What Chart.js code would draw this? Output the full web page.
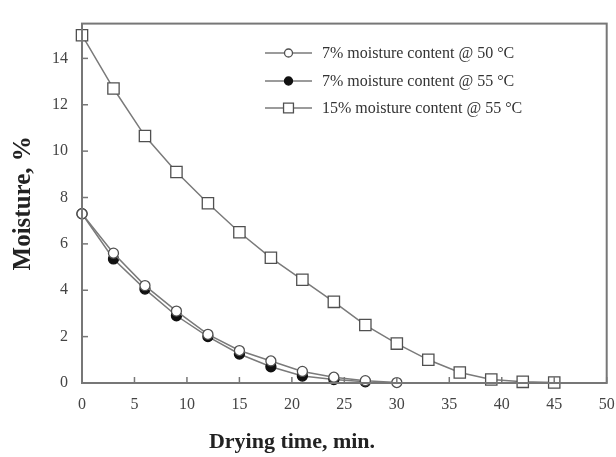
<!DOCTYPE html>
<html>
<head>
<meta charset="utf-8">
<script src="https://cdn.jsdelivr.net/npm/chart.js@4/dist/chart.umd.min.js"></script>
<style>
  html, body { margin: 0; padding: 0; background: #fff; }
  #wrap { width: 616px; height: 457px; }
</style>
</head>
<body>
<div id="wrap"><canvas id="chart" width="616" height="457"></canvas></div>
<script>
// data (drying time in min, moisture in %)
const time7at50 = [0, 3, 6, 9, 12, 15, 18, 21, 24, 27, 30];
const moist7at50 = [7.3, 5.6, 4.2, 3.1, 2.1, 1.4, 0.95, 0.5, 0.25, 0.1, 0.02];

const time7at55 = [0, 3, 6, 9, 12, 15, 18, 21, 24, 27];
const moist7at55 = [7.3, 5.35, 4.05, 2.9, 2.0, 1.25, 0.7, 0.3, 0.15, 0.05];

const time15at55 = [0, 3, 6, 9, 12, 15, 18, 21, 24, 27, 30, 33, 36, 39, 42, 45];
const moist15at55 = [15.0, 12.7, 10.65, 9.1, 7.75, 6.5, 5.4, 4.45, 3.5, 2.5, 1.7, 1.0, 0.45, 0.15, 0.05, 0.02];

const seriesLabels = [
    '7% moisture content @ 50 \u00B0C',
    '7% moisture content @ 55 \u00B0C',
    '15% moisture content @ 55 \u00B0C'
];
const xTicks = [0, 5, 10, 15, 20, 25, 30, 35, 40, 45, 50];
const yTicks = [0, 2, 4, 6, 8, 10, 12, 14];

const toPoints = (xs, ys) => xs.map((x, i) => ({ x: x, y: ys[i] }));

const serif = '"Liberation Serif", "DejaVu Serif", serif';
const lineGray = '#7a7a7a';
const markGray = '#505050';

// frame, inward ticks, axis titles and an in-plot legend
const decorations = {
    id: 'decorations',
    afterDraw(chart) {
        const ctx = chart.ctx;
        const a = chart.chartArea;
        const xs = chart.scales.x, ys = chart.scales.y;
        ctx.save();
        ctx.strokeStyle = '#777';
        ctx.lineWidth = 2;
        ctx.strokeRect(a.left, a.top, a.right - a.left, a.bottom - a.top);

        ctx.lineWidth = 1.5;
        xTicks.forEach(v => {
            const px = xs.getPixelForValue(v);
            ctx.beginPath(); ctx.moveTo(px, a.bottom); ctx.lineTo(px, a.bottom - 6); ctx.stroke();
        });
        yTicks.forEach(v => {
            const py = ys.getPixelForValue(v);
            ctx.beginPath(); ctx.moveTo(a.left, py); ctx.lineTo(a.left + 6, py); ctx.stroke();
        });

        ctx.fillStyle = '#222';
        ctx.font = 'bold 22px ' + serif;
        ctx.textAlign = 'center';
        ctx.textBaseline = 'middle';
        ctx.fillText('Drying time, min.', 292, 442);
        ctx.translate(24, (a.top + a.bottom) / 2);
        ctx.rotate(-Math.PI / 2);
        ctx.font = 'bold 25px ' + serif;
        ctx.fillText('Moisture, %', 0, 0);
        ctx.restore();

        // legend
        ctx.save();
        const lx0 = 265, lx1 = 312, rowY = [53, 81, 108];
        chart.data.datasets.forEach((ds, i) => {
            const y = rowY[i];
            ctx.strokeStyle = lineGray;
            ctx.lineWidth = 1.5;
            ctx.beginPath(); ctx.moveTo(lx0, y); ctx.lineTo(lx1, y); ctx.stroke();
            ctx.strokeStyle = ds.pointBorderColor;
            ctx.fillStyle = ds.pointBackgroundColor;
            ctx.lineWidth = 1.3;
            Chart.helpers.drawPoint(ctx, {
                pointStyle: ds.pointStyle,
                radius: ds.pointStyle === 'rect' ? 7 : 4,
                borderWidth: 1.3,
                rotation: 0
            }, (lx0 + lx1) / 2, y);
            ctx.fillStyle = '#333';
            ctx.font = '16px ' + serif;
            ctx.textAlign = 'left';
            ctx.textBaseline = 'middle';
            ctx.fillText(ds.label, 322, y + 1);
        });
        ctx.restore();
    }
};

new Chart(document.getElementById('chart'), {
    type: 'line',
    data: {
        datasets: [
            {
                label: seriesLabels[0],
                data: toPoints(time7at50, moist7at50),
                borderColor: lineGray,
                borderWidth: 1.5,
                pointStyle: 'circle',
                pointRadius: 5,
                pointBackgroundColor: '#fff',
                pointBorderColor: markGray,
                pointBorderWidth: 1.3,
                clip: false
            },
            {
                label: seriesLabels[1],
                data: toPoints(time7at55, moist7at55),
                borderColor: lineGray,
                borderWidth: 1.5,
                pointStyle: 'circle',
                pointRadius: 5,
                pointBackgroundColor: '#111',
                pointBorderColor: '#111',
                pointBorderWidth: 1.3,
                clip: false
            },
            {
                label: seriesLabels[2],
                data: toPoints(time15at55, moist15at55),
                borderColor: lineGray,
                borderWidth: 1.5,
                pointStyle: 'rect',
                pointRadius: 8,
                pointBackgroundColor: '#fff',
                pointBorderColor: markGray,
                pointBorderWidth: 1.3,
                clip: false
            }
        ]
    },
    options: {
        responsive: false,
        animation: false,
        layout: { padding: { top: 16, right: 0, left: 0, bottom: 0 } },
        plugins: {
            legend: { display: false },
            tooltip: { enabled: false }
        },
        scales: {
            x: {
                type: 'linear',
                min: 0,
                max: 50,
                afterFit(scale) { scale.height = 74; scale.paddingRight = 8; },
                grid: { display: false, drawTicks: false },
                border: { display: false },
                ticks: {
                    stepSize: 5,
                    padding: 12,
                    color: '#444',
                    font: { family: serif, size: 16 }
                }
            },
            y: {
                min: 0,
                max: 15.5,
                afterFit(scale) { scale.width = 82; },
                grid: { display: false, drawTicks: false },
                border: { display: false },
                ticks: {
                    stepSize: 2,
                    includeBounds: false,
                    padding: 14,
                    color: '#444',
                    font: { family: serif, size: 16 }
                }
            }
        }
    },
    plugins: [decorations]
});
</script>
</body>
</html>
